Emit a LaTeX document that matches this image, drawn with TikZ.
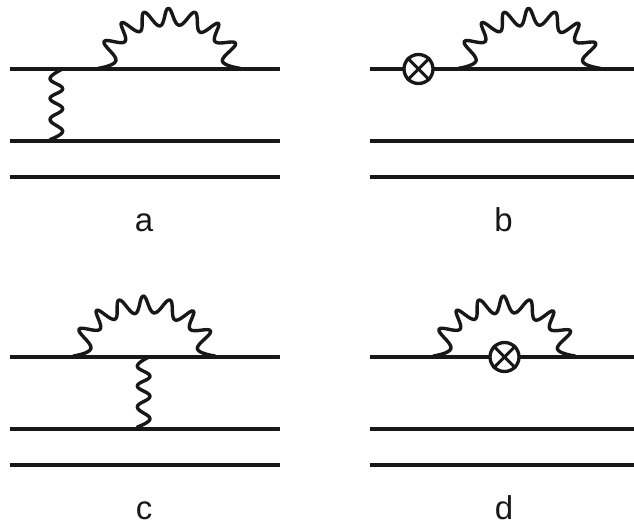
\documentclass[tikz,border=0pt]{standalone}
\usepackage{fontspec}
\setmainfont{Liberation Sans}
\begin{document}
\begin{tikzpicture}[x=1pt,y=-1pt,
  fermion/.style={line width=3.1pt,color=ink},
  wave/.style={line width=3.4pt,color=ink,line join=round,line cap=round},
  vertexmark/.style={circle,draw=ink,fill=white,line width=3.3pt,minimum size=29pt,inner sep=0pt},
  crossbar/.style={line width=3.1pt,color=ink},
  caption/.style={font=\fontsize{33}{36}\selectfont,text=ink,inner sep=0pt,anchor=base},
  pics/selfwave/.style={code={
    \draw[wave] plot[smooth,tension=0.72] coordinates {
      (0,0) (17.7,-7.7) (5.7,-26.7) (26.7,-26.7) (23.3,-45.7) (41.7,-36.7) (45.7,-56)
      (61.7,-42.3) (70,-60) (80.7,-43) (96.7,-56) (101.7,-36) (120,-45) (116.7,-26.7)
      (137.3,-25) (124,-7.3) (141.7,0)};
  }},
  pics/exchwave/.style={code={
    \draw[wave] plot[smooth,tension=0.72] coordinates {
      (0,0) (-11.7,9.3) (1,19.3) (-11.7,29) (1,39.3) (-11.7,50) (1,61.7) (-11.7,70)};
  }}]
\definecolor{ink}{HTML}{1A1718}
\useasboundingbox (0,0) rectangle (634,527);
% panel a
\coordinate (a1l) at (9.5,69); \coordinate (a1r) at (279.5,69);
\coordinate (a2l) at (9.5,141); \coordinate (a2r) at (279.5,141);
\coordinate (a3l) at (9.5,177); \coordinate (a3r) at (279.5,177);
\draw[fermion] (a1l) -- (a1r);
\draw[fermion] (a2l) -- (a2r);
\draw[fermion] (a3l) -- (a3r);
\pic at (98.3,68.3) {selfwave};
\pic at (61.7,69.5) {exchwave};
\node[caption] (la) at (144,231) {a};
% panel b
\coordinate (b1l) at (369.5,69); \coordinate (b1r) at (634,69);
\coordinate (b2l) at (369.5,141); \coordinate (b2r) at (634,141);
\coordinate (b3l) at (369.5,177); \coordinate (b3r) at (634,177);
\draw[fermion] (b1l) -- (b1r);
\draw[fermion] (b2l) -- (b2r);
\draw[fermion] (b3l) -- (b3r);
\pic at (458.5,68.3) {selfwave};
\node[vertexmark] (mb) at (418.5,69) {};
\draw[crossbar] (mb.45) -- (mb.225);
\draw[crossbar] (mb.135) -- (mb.315);
\node[caption] (lb) at (503.5,231) {b};
% panel c
\coordinate (c1l) at (9.5,357); \coordinate (c1r) at (279.5,357);
\coordinate (c2l) at (9.5,429); \coordinate (c2r) at (279.5,429);
\coordinate (c3l) at (9.5,465); \coordinate (c3r) at (279.5,465);
\draw[fermion] (c1l) -- (c1r);
\draw[fermion] (c2l) -- (c2r);
\draw[fermion] (c3l) -- (c3r);
\pic at (73.3,356) {selfwave};
\pic at (149,357) {exchwave};
\node[caption] (lc) at (144,519) {c};
% panel d
\coordinate (d1l) at (369.5,357); \coordinate (d1r) at (634,357);
\coordinate (d2l) at (369.5,429); \coordinate (d2r) at (634,429);
\coordinate (d3l) at (369.5,465); \coordinate (d3r) at (634,465);
\draw[fermion] (d1l) -- (d1r);
\draw[fermion] (d2l) -- (d2r);
\draw[fermion] (d3l) -- (d3r);
\pic at (433.3,356) {selfwave};
\node[vertexmark] (md) at (504.5,357) {};
\draw[crossbar] (md.45) -- (md.225);
\draw[crossbar] (md.135) -- (md.315);
\node[caption] (ld) at (504,519) {d};
\end{tikzpicture}
\end{document}
